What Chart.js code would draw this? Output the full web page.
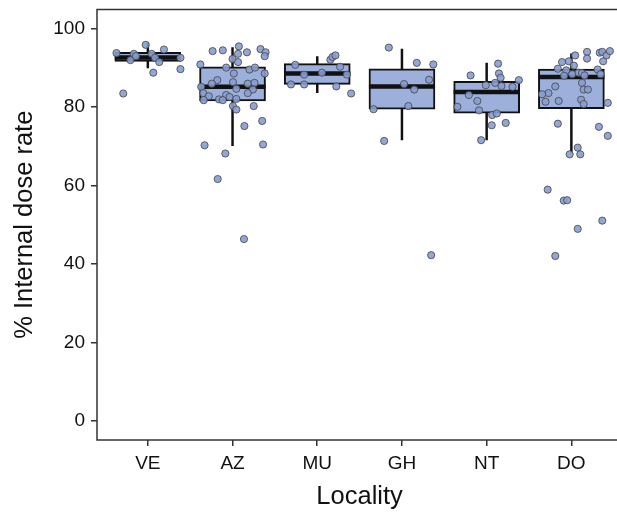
<!DOCTYPE html>
<html>
<head>
<meta charset="utf-8">
<script src="https://cdn.jsdelivr.net/npm/chart.js@4"></script>
<style>
  html, body { margin: 0; padding: 0; background: #fff; overflow: hidden; }
  #wrap { width: 617px; height: 512px; overflow: hidden; }
  canvas { display: block; }
</style>
</head>
<body>
<div id="wrap"><canvas id="mainChart" width="627" height="512"></canvas></div>
<script>
const localities = ['VE', 'AZ', 'MU', 'GH', 'NT', 'DO'];
const yTicks = [0, 20, 40, 60, 80, 100];

// box stats
const whiskLo = [89.8, 70.0, 83.5, 71.5, 71.5, 68.1];
const q1 =      [91.6, 81.5, 85.7, 79.4, 78.4, 79.5];
const median =  [92.6, 85.1, 88.5, 85.2, 83.8, 87.6];
const q3 =      [93.9, 90.2, 91.0, 89.7, 86.5, 89.6];
const whiskHi = [96.3, 95.2, 92.9, 94.8, 91.2, 93.6];

// jittered observations (jitter in category units)
const veVals = [93.7, 93.5, 91.9, 92.9, 95.8, 93.5, 92.5, 91.4, 94.6, 88.7, 92.5, 89.6, 83.4];
const veJit = [-0.37, -0.165, -0.205, -0.14, -0.025, 0.045, 0.085, 0.135, 0.19, 0.065, 0.385, 0.385, -0.29];

const azVals = [94.2, 94.4, 95.4, 93.5, 93.9, 94.7, 93.9, 92.9, 92.2, 91.4, 90.8, 90.0, 89.5, 90.0, 88.5, 88.5,
  86.8, 85.9, 86.3, 85.9, 86.1, 85.1, 84.6, 84.4, 83.5, 82.7, 83.0, 83.5, 81.7, 81.9, 81.7, 82.5, 82.0,
  80.2, 79.3, 80.2, 76.4, 75.1, 70.2, 70.4, 68.1, 61.6, 46.3];
const azJit = [-0.235, -0.115, 0.075, 0.065, 0.17, 0.33, 0.39, 0.38, 0.0, 0.065, -0.38, -0.075, 0.2, 0.265, 0.015, 0.38,
  -0.18, -0.245, 0.005, 0.18, 0.26, -0.37, 0.045, 0.24, -0.345, -0.28, -0.075, 0.18, -0.34, -0.16, -0.115, -0.035, 0.045,
  0.005, 0.045, 0.25, 0.35, 0.14, -0.33, 0.36, -0.085, -0.175, 0.135];

const muVals = [90.7, 88.2, 88.7, 92.0, 92.7, 93.1, 90.2, 88.2, 85.7, 85.7, 85.2, 83.4];
const muJit = [-0.26, -0.155, 0.055, 0.155, 0.18, 0.215, 0.27, 0.35, -0.31, -0.155, 0.225, 0.4];

const ghVals = [95.1, 91.2, 90.8, 86.9, 85.8, 84.4, 79.4, 80.2, 71.3, 42.2];
const ghJit = [-0.155, 0.175, 0.37, 0.32, 0.025, 0.145, -0.335, 0.075, -0.21, 0.345];

const ntVals = [91.0, 88.0, 88.5, 87.4, 86.8, 85.5, 86.1, 85.3, 85.1, 83.0, 81.5, 80.0, 79.1, 77.9, 78.3, 75.9, 75.3, 71.5];
const ntJit = [0.135, -0.19, 0.145, 0.165, 0.38, -0.01, 0.1, 0.175, 0.305, -0.21, -0.11, -0.345, -0.09, 0.065, 0.12, 0.225, 0.06, -0.065];

const doVals = [93.1, 94.0, 92.3, 93.8, 94.0, 93.1, 94.2, 91.6, 91.4, 91.6, 90.5, 89.7, 89.3, 87.9, 88.3, 88.7, 88.6, 88.0,
  89.5, 88.3, 85.2, 86.1, 84.4, 84.4, 83.5, 83.2, 81.3, 81.5, 81.8, 80.7, 81.0, 75.7, 74.9, 72.6, 69.6, 67.9, 67.9,
  58.9, 56.1, 56.2, 51.0, 48.9, 42.0];
const doJit = [0.045, 0.185, 0.185, 0.335, 0.365, 0.415, 0.455, 0.375, -0.11, -0.03, 0.03, -0.16, -0.06, -0.085, 0.01, 0.085, 0.125, 0.155,
  0.31, 0.345, -0.19, 0.125, 0.145, 0.195, -0.27, -0.345, -0.305, -0.15, 0.115, 0.145, 0.43, -0.16, 0.325, 0.43, 0.075, -0.02, 0.105,
  -0.28, -0.09, -0.05, 0.365, 0.075, -0.19];

const groupVals = [veVals, azVals, muVals, ghVals, ntVals, doVals];
const groupJit = [veJit, azJit, muJit, ghJit, ntJit, doJit];

const boxHalf = 0.39;
const boxFill = '#9db0db';
const pointFill = 'rgba(135,156,208,0.9)';
const ink = '#111';
const axisColor = '#333';
const fontFamily = 'Liberation Sans, Arial, sans-serif';

const points = [];
groupVals.forEach((vals, i) => {
    vals.forEach((v, k) => points.push({ x: i + groupJit[i][k], y: v }));
});

const boxes = localities.map((_, i) => ({ x: i, y: [q1[i], q3[i]] }));

const whiskers = [];
const medians = [];
localities.forEach((_, i) => {
    whiskers.push({ x: i, y: whiskLo[i] }, { x: i, y: whiskHi[i] }, { x: i, y: null });
    medians.push({ x: i - boxHalf, y: median[i] }, { x: i + boxHalf, y: median[i] }, { x: i, y: null });
});

// panel border
const frame = {
    id: 'frame',
    afterDraw(chart) {
        const a = chart.chartArea;
        const ctx = chart.ctx;
        ctx.save();
        ctx.strokeStyle = axisColor;
        ctx.lineWidth = 1.5;
        ctx.strokeRect(a.left, a.top, a.right - a.left, a.bottom - a.top);
        ctx.restore();
    }
};

new Chart(document.getElementById('mainChart'), {
    type: 'scatter',
    data: {
        datasets: [
            {
                type: 'scatter',
                data: points,
                order: 0,
                pointRadius: 3.6,
                pointBorderWidth: 0.8,
                pointBorderColor: '#444',
                pointBackgroundColor: pointFill
            },
            {
                type: 'line',
                data: medians,
                order: 1,
                borderColor: ink,
                borderWidth: 4.5,
                pointRadius: 0,
                fill: false,
                spanGaps: false
            },
            {
                type: 'bar',
                data: boxes,
                order: 2,
                backgroundColor: boxFill,
                borderColor: ink,
                borderWidth: 2,
                borderSkipped: false,
                barThickness: 66
            },
            {
                type: 'line',
                data: whiskers,
                order: 3,
                borderColor: ink,
                borderWidth: 2.5,
                pointRadius: 0,
                fill: false,
                spanGaps: false
            }
        ]
    },
    options: {
        responsive: false,
        animation: false,
        layout: { padding: { top: 9.5, left: 0, right: 0, bottom: 0 } },
        plugins: { legend: { display: false }, tooltip: { enabled: false } },
        scales: {
            x: {
                type: 'linear',
                min: -0.6,
                max: 5.6,
                offset: false,
                afterBuildTicks: s => { s.ticks = localities.map((_, i) => ({ value: i })); },
                afterFit: s => { s.height = 72; s.paddingLeft = 0; s.paddingRight = 0; },
                ticks: {
                    callback: v => localities[v],
                    color: '#111',
                    font: { family: fontFamily, size: 19 },
                    padding: 6,
                    maxRotation: 0,
                    autoSkip: false
                },
                grid: { offset: false, drawOnChartArea: false, drawTicks: true, tickLength: 6, color: axisColor, lineWidth: 1.5 },
                border: { display: false },
                title: {
                    display: true,
                    text: 'Locality',
                    color: '#111',
                    font: { family: fontFamily, size: 25.5 },
                    padding: { top: 0, bottom: 0 }
                }
            },
            y: {
                min: -4.9,
                max: 104.8,
                afterBuildTicks: s => { s.ticks = yTicks.map(v => ({ value: v })); },
                afterFit: s => { s.width = 97; s.paddingTop = 0; s.paddingBottom = 0; },
                ticks: {
                    color: '#111',
                    font: { family: fontFamily, size: 19 },
                    padding: 6
                },
                grid: { drawOnChartArea: false, drawTicks: true, tickLength: 6, color: axisColor, lineWidth: 1.5 },
                border: { display: false },
                title: {
                    display: true,
                    text: '% Internal dose rate',
                    color: '#111',
                    font: { family: fontFamily, size: 25.5 },
                    padding: { top: 10, bottom: 0 }
                }
            }
        }
    },
    plugins: [frame]
});
</script>
</body>
</html>
